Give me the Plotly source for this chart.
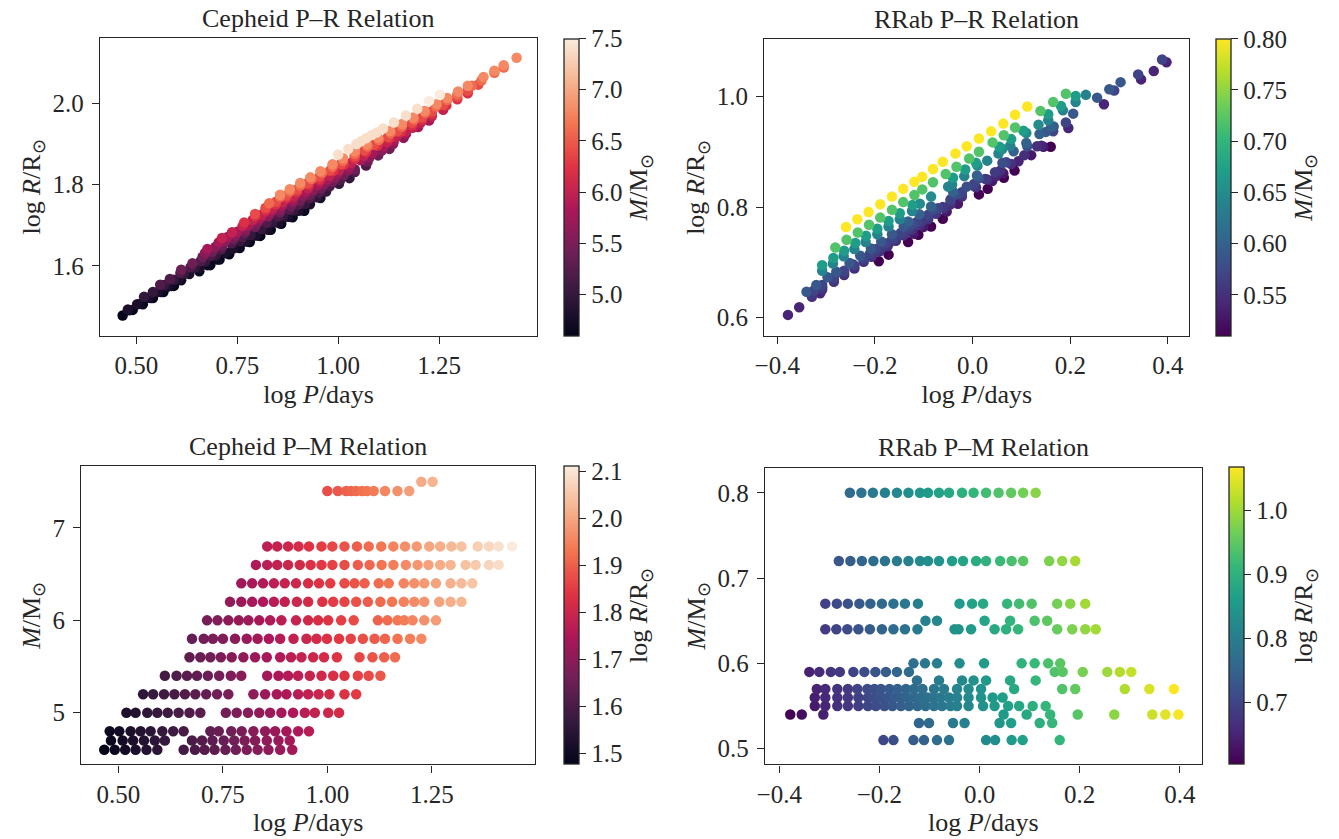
import plotly.graph_objects as go

# ---------------- Cepheid data (rows of equal mass) ----------------
cep_masses = [4.6, 4.7, 4.8, 5.0, 5.2, 5.4, 5.6, 5.8, 6.0, 6.2, 6.4, 6.6, 6.8, 7.4, 7.5]

cep_46_p = [0.466, 0.491, 0.516, 0.541, 0.567, 0.593, 0.656, 0.683, 0.706, 0.730, 0.756, 0.781, 0.807, 0.833, 0.859, 0.887, 0.916]
cep_46_r = [1.478, 1.492, 1.506, 1.521, 1.536, 1.551, 1.587, 1.602, 1.616, 1.629, 1.644, 1.659, 1.674, 1.689, 1.704, 1.720, 1.736]
cep_47_p = [0.482, 0.510, 0.535, 0.561, 0.587, 0.611, 0.676, 0.700, 0.725, 0.752, 0.777, 0.802, 0.827, 0.855, 0.883, 0.910]
cep_47_r = [1.491, 1.507, 1.521, 1.536, 1.551, 1.565, 1.602, 1.616, 1.631, 1.646, 1.660, 1.675, 1.689, 1.705, 1.721, 1.737]
cep_48_p = [0.479, 0.502, 0.529, 0.553, 0.577, 0.605, 0.631, 0.656, 0.720, 0.740, 0.770, 0.795, 0.823, 0.851, 0.875, 0.902, 0.930, 0.956]
cep_48_r = [1.493, 1.506, 1.522, 1.536, 1.549, 1.566, 1.580, 1.595, 1.632, 1.643, 1.660, 1.675, 1.691, 1.707, 1.721, 1.736, 1.752, 1.767]
cep_50_p = [0.519, 0.541, 0.569, 0.593, 0.618, 0.644, 0.670, 0.696, 0.757, 0.783, 0.810, 0.837, 0.863, 0.890, 0.918, 0.946, 0.970, 1.002, 1.028]
cep_50_r = [1.524, 1.536, 1.553, 1.566, 1.581, 1.596, 1.611, 1.626, 1.661, 1.676, 1.691, 1.707, 1.722, 1.737, 1.753, 1.769, 1.783, 1.802, 1.816]
cep_52_p = [0.559, 0.583, 0.609, 0.634, 0.659, 0.684, 0.710, 0.736, 0.763, 0.823, 0.851, 0.879, 0.902, 0.930, 0.954, 0.979, 1.005, 1.041, 1.069]
cep_52_r = [1.554, 1.568, 1.583, 1.597, 1.612, 1.626, 1.641, 1.656, 1.671, 1.706, 1.722, 1.738, 1.751, 1.767, 1.781, 1.796, 1.811, 1.831, 1.847]
cep_54_p = [0.611, 0.639, 0.664, 0.688, 0.714, 0.741, 0.769, 0.794, 0.856, 0.883, 0.906, 0.930, 0.958, 0.986, 1.014, 1.041, 1.073, 1.099, 1.127]
cep_54_r = [1.591, 1.607, 1.622, 1.635, 1.650, 1.666, 1.682, 1.696, 1.732, 1.747, 1.761, 1.775, 1.791, 1.807, 1.823, 1.838, 1.857, 1.872, 1.888]
cep_56_p = [0.670, 0.696, 0.720, 0.745, 0.771, 0.799, 0.827, 0.855, 0.887, 0.913, 0.938, 0.966, 0.992, 1.023, 1.077, 1.108, 1.136, 1.162]
cep_56_r = [1.632, 1.647, 1.661, 1.675, 1.690, 1.706, 1.722, 1.738, 1.757, 1.772, 1.786, 1.802, 1.817, 1.835, 1.866, 1.884, 1.900, 1.915]
cep_58_p = [0.676, 0.704, 0.726, 0.750, 0.779, 0.807, 0.833, 0.860, 0.887, 0.919, 0.950, 0.974, 0.999, 1.028, 1.056, 1.085, 1.113, 1.138, 1.168, 1.198, 1.225]
cep_58_r = [1.642, 1.658, 1.671, 1.684, 1.701, 1.717, 1.732, 1.748, 1.763, 1.782, 1.799, 1.813, 1.828, 1.844, 1.860, 1.877, 1.893, 1.908, 1.925, 1.942, 1.958]
cep_60_p = [0.712, 0.737, 0.763, 0.788, 0.811, 0.837, 0.863, 0.890, 0.925, 0.954, 0.978, 1.002, 1.033, 1.063, 1.121, 1.144, 1.168, 1.184, 1.204, 1.232, 1.260]
cep_60_r = [1.669, 1.683, 1.698, 1.713, 1.726, 1.741, 1.756, 1.771, 1.791, 1.808, 1.822, 1.836, 1.854, 1.871, 1.904, 1.917, 1.931, 1.940, 1.952, 1.968, 1.984]
cep_62_p = [0.767, 0.794, 0.820, 0.846, 0.872, 0.898, 0.927, 0.954, 0.988, 1.014, 1.041, 1.069, 1.097, 1.127, 1.155, 1.183, 1.208, 1.232, 1.268, 1.295, 1.321]
cep_62_r = [1.707, 1.722, 1.737, 1.752, 1.767, 1.782, 1.799, 1.814, 1.834, 1.849, 1.864, 1.880, 1.896, 1.914, 1.930, 1.946, 1.960, 1.974, 1.995, 2.010, 2.025]
cep_64_p = [0.794, 0.820, 0.846, 0.872, 0.898, 0.925, 0.954, 0.980, 1.007, 1.041, 1.065, 1.089, 1.123, 1.147, 1.183, 1.208, 1.232, 1.260, 1.295, 1.321, 1.347]
cep_64_r = [1.728, 1.743, 1.758, 1.773, 1.788, 1.804, 1.820, 1.835, 1.851, 1.870, 1.884, 1.898, 1.917, 1.931, 1.952, 1.966, 1.980, 1.996, 2.016, 2.031, 2.046]
cep_66_p = [0.829, 0.856, 0.880, 0.906, 0.934, 0.960, 0.986, 1.012, 1.041, 1.073, 1.101, 1.130, 1.158, 1.188, 1.216, 1.242, 1.270, 1.295, 1.331, 1.355, 1.387, 1.410]
cep_66_r = [1.754, 1.770, 1.783, 1.798, 1.814, 1.829, 1.844, 1.859, 1.876, 1.894, 1.910, 1.927, 1.943, 1.960, 1.977, 1.992, 2.008, 2.022, 2.043, 2.056, 2.075, 2.088]
cep_68_p = [0.856, 0.880, 0.906, 0.931, 0.956, 0.986, 1.012, 1.041, 1.071, 1.099, 1.129, 1.158, 1.186, 1.214, 1.244, 1.270, 1.297, 1.321, 1.360, 1.387, 1.410, 1.442]
cep_68_r = [1.775, 1.789, 1.804, 1.818, 1.833, 1.850, 1.865, 1.882, 1.899, 1.915, 1.932, 1.949, 1.965, 1.981, 1.998, 2.013, 2.029, 2.043, 2.065, 2.080, 2.094, 2.112]
cep_74_p = [1.000, 1.025, 1.045, 1.057, 1.069, 1.083, 1.095, 1.111, 1.138, 1.168, 1.196]
cep_74_r = [1.874, 1.888, 1.900, 1.907, 1.914, 1.922, 1.928, 1.938, 1.953, 1.970, 1.987]
cep_75_p = [1.225, 1.252]
cep_75_r = [2.006, 2.021]

cep_rows_p = [cep_46_p, cep_47_p, cep_48_p, cep_50_p, cep_52_p, cep_54_p, cep_56_p, cep_58_p,
              cep_60_p, cep_62_p, cep_64_p, cep_66_p, cep_68_p, cep_74_p, cep_75_p]
cep_rows_r = [cep_46_r, cep_47_r, cep_48_r, cep_50_r, cep_52_r, cep_54_r, cep_56_r, cep_58_r,
              cep_60_r, cep_62_r, cep_64_r, cep_66_r, cep_68_r, cep_74_r, cep_75_r]

# ---------------- RRab data (rows of equal mass) ----------------
rr_masses = [0.51, 0.53, 0.54, 0.55, 0.56, 0.57, 0.58, 0.59, 0.60, 0.64, 0.65, 0.67, 0.72, 0.80]

rr_051_p = [-0.192, -0.172, -0.132, -0.111, -0.085, -0.061, 0.013, 0.031, 0.064, 0.086, 0.160]
rr_051_r = [0.702, 0.714, 0.737, 0.750, 0.765, 0.779, 0.823, 0.833, 0.853, 0.866, 0.909]
rr_053_p = [-0.121, -0.101, -0.053, -0.030, 0.040, 0.063, 0.120, 0.145]
rr_053_r = [0.752, 0.764, 0.792, 0.806, 0.847, 0.861, 0.894, 0.909]
rr_054_p = [-0.378, -0.355, -0.312, 0.048, 0.094, 0.141, 0.196, 0.269, 0.345, 0.371, 0.397]
rr_054_r = [0.605, 0.619, 0.644, 0.856, 0.883, 0.911, 0.943, 0.986, 1.031, 1.046, 1.062]
rr_055_p = [-0.329, -0.308, -0.284, -0.263, -0.242, -0.223, -0.207, -0.190, -0.174, -0.157, -0.141, -0.124,
            -0.108, -0.091, -0.075, -0.058, -0.045, -0.022, 0.007, 0.030, 0.057, 0.079, 0.106, 0.132]
rr_055_r = [0.638, 0.651, 0.665, 0.677, 0.689, 0.701, 0.710, 0.720, 0.729, 0.739, 0.749, 0.759,
            0.768, 0.778, 0.788, 0.798, 0.805, 0.819, 0.836, 0.850, 0.866, 0.878, 0.894, 0.910]
rr_056_p = [-0.329, -0.308, -0.284, -0.263, -0.242, -0.223, -0.210, -0.197, -0.184, -0.170, -0.157, -0.144,
            -0.131, -0.118, -0.104, -0.091, -0.078, -0.061, -0.045, -0.022, 0.003, 0.026, 0.046]
rr_056_r = [0.642, 0.655, 0.669, 0.681, 0.694, 0.705, 0.712, 0.720, 0.728, 0.736, 0.744, 0.751,
            0.759, 0.767, 0.775, 0.782, 0.790, 0.800, 0.810, 0.823, 0.838, 0.851, 0.863]
rr_057_p = [-0.325, -0.308, -0.284, -0.263, -0.244, -0.224, -0.210, -0.197, -0.180, -0.164, -0.147, -0.131,
            -0.114, -0.091, -0.071, -0.045, -0.022, 0.003, 0.069, 0.165, 0.191, 0.290, 0.339, 0.388]
rr_057_r = [0.649, 0.659, 0.673, 0.685, 0.696, 0.708, 0.716, 0.724, 0.734, 0.743, 0.753, 0.763,
            0.773, 0.786, 0.798, 0.814, 0.827, 0.842, 0.881, 0.937, 0.953, 1.011, 1.040, 1.067]
rr_058_p = [-0.125, -0.081, -0.035, -0.012, 0.013, 0.061, 0.112]
rr_058_r = [0.770, 0.796, 0.823, 0.837, 0.852, 0.880, 0.910]
rr_059_p = [-0.340, -0.320, -0.297, -0.279, -0.252, -0.230, -0.208, -0.187, -0.165, -0.141,
            0.150, 0.166, 0.206, 0.255, 0.280, 0.303]
rr_059_r = [0.647, 0.659, 0.673, 0.683, 0.699, 0.712, 0.725, 0.738, 0.751, 0.765,
            0.936, 0.946, 0.969, 0.998, 1.013, 1.026]
rr_060_p = [-0.132, -0.109, -0.085, -0.040, 0.009, 0.084, 0.110, 0.137, 0.161]
rr_060_r = [0.774, 0.787, 0.801, 0.828, 0.857, 0.901, 0.916, 0.932, 0.946]
rr_064_p = [-0.308, -0.286, -0.264, -0.242, -0.219, -0.195, -0.172, -0.149, -0.124, -0.050,
            -0.042, -0.017, 0.030, 0.053, 0.077, 0.155, 0.185, 0.211, 0.232]
rr_064_r = [0.685, 0.698, 0.711, 0.724, 0.737, 0.751, 0.765, 0.778, 0.793, 0.837,
            0.841, 0.856, 0.884, 0.897, 0.911, 0.957, 0.975, 0.990, 1.003]
rr_065_p = [-0.108, -0.085, 0.010, 0.061, 0.110, 0.135]
rr_065_r = [0.806, 0.819, 0.875, 0.905, 0.934, 0.949]
rr_067_p = [-0.308, -0.285, -0.263, -0.240, -0.218, -0.195, -0.172, -0.149, -0.123,
            -0.040, -0.015, 0.007, 0.055, 0.079, 0.104, 0.155, 0.181, 0.211]
rr_067_r = [0.695, 0.708, 0.721, 0.735, 0.748, 0.761, 0.775, 0.789, 0.804,
            0.853, 0.868, 0.880, 0.909, 0.923, 0.938, 0.968, 0.983, 1.001]
rr_072_p = [-0.281, -0.258, -0.235, -0.212, -0.189, -0.165, -0.142, -0.119, -0.103, -0.081,
            -0.055, -0.033, -0.007, 0.013, 0.041, 0.064, 0.087, 0.139, 0.165, 0.191]
rr_072_r = [0.727, 0.741, 0.754, 0.768, 0.781, 0.795, 0.809, 0.822, 0.832, 0.845,
            0.860, 0.873, 0.888, 0.900, 0.917, 0.930, 0.944, 0.974, 0.990, 1.005]
rr_080_p = [-0.259, -0.236, -0.213, -0.189, -0.165, -0.142, -0.119, -0.103, -0.081,
            -0.061, -0.035, -0.012, 0.013, 0.038, 0.063, 0.087, 0.112]
rr_080_r = [0.764, 0.778, 0.791, 0.805, 0.819, 0.833, 0.846, 0.855, 0.869,
            0.882, 0.897, 0.910, 0.924, 0.937, 0.951, 0.967, 0.982]

rr_rows_p = [rr_051_p, rr_053_p, rr_054_p, rr_055_p, rr_056_p, rr_057_p, rr_058_p,
             rr_059_p, rr_060_p, rr_064_p, rr_065_p, rr_067_p, rr_072_p, rr_080_p]
rr_rows_r = [rr_051_r, rr_053_r, rr_054_r, rr_055_r, rr_056_r, rr_057_r, rr_058_r,
             rr_059_r, rr_060_r, rr_064_r, rr_065_r, rr_067_r, rr_072_r, rr_080_r]

# tick labels
lin_ticks = [0.5, 0.75, 1.0, 1.25]
lin_ticktext = ["0.50", "0.75", "1.00", "1.25"]
rr_xticks = [-0.4, -0.2, 0.0, 0.2, 0.4]
rr_xticktext = ["\u22120.4", "\u22120.2", "0.0", "0.2", "0.4"]

# ---------------- flatten ----------------
def flatten(rows):
    out = []
    for r in rows:
        out.extend(r)
    return out

cep_p = flatten(cep_rows_p)
cep_r = flatten(cep_rows_r)
cep_m = flatten([[m] * len(r) for m, r in zip(cep_masses, cep_rows_p)])
rr_p = flatten(rr_rows_p)
rr_r = flatten(rr_rows_r)
rr_m = flatten([[m] * len(r) for m, r in zip(rr_masses, rr_rows_p)])

# ---------------- styling ----------------
W, H = 1339, 839
FONT = "Liberation Serif"
INK = "#262626"
TICK_SIZE = 25
LABEL_SIZE = 26
TITLE_SIZE = 26
MS = 10.5

rocket = [
    [0.0, "#03051a"], [0.1429, "#35193e"], [0.2857, "#701f57"], [0.4286, "#ad1759"],
    [0.5714, "#e13342"], [0.7143, "#f37651"], [0.8571, "#f6b48f"], [1.0, "#faebdd"],
]

def fx(px):
    return px / W

def fy(py):
    return 1 - py / H

# panel boxes in pixels: left, right, top, bottom
boxes = {
    1: (90.7, 531.0, 38.3, 335.7),
    2: (760.0, 1188.3, 38.8, 335.7),
    3: (71.7, 529.3, 466.3, 764.3),
    4: (760.7, 1200.7, 467.5, 764.3),
}

def cbar(x_px, box, title, tickvals, ticktext):
    l, r, t, b = box
    return dict(
        x=fx(x_px), xanchor="left", xpad=0, ypad=0,
        y=fy((t + b) / 2), yanchor="middle", len=(b - t) / H, lenmode="fraction",
        thickness=15, thicknessmode="pixels",
        outlinewidth=1.3, outlinecolor=INK,
        ticks="outside", ticklen=7, tickwidth=1.4, tickcolor=INK,
        tickvals=tickvals, ticktext=ticktext,
        tickfont=dict(family=FONT, size=TICK_SIZE, color=INK),
        title=dict(text=title, side="right", font=dict(family=FONT, size=LABEL_SIZE, color=INK)),
    )

R_LABEL = "log <i>R</i>/R<sub>\u2299</sub>"
M_LABEL = "<i>M</i>/M<sub>\u2299</sub>"
P_LABEL = "log <i>P</i>/days"

fig = go.Figure()

# Top-left: Cepheid P-R coloured by mass
fig.add_trace(go.Scatter(
    x=cep_p, y=cep_r, mode="markers", xaxis="x", yaxis="y",
    marker=dict(size=MS, color=cep_m, colorscale=rocket, cmin=4.6, cmax=7.5, line=dict(width=0),
                colorbar=cbar(558.3, boxes[1], M_LABEL,
                              [5.0, 5.5, 6.0, 6.5, 7.0, 7.5], ["5.0", "5.5", "6.0", "6.5", "7.0", "7.5"])),
    showlegend=False))

# Top-right: RRab P-R coloured by mass
fig.add_trace(go.Scatter(
    x=rr_p, y=rr_r, mode="markers", xaxis="x2", yaxis="y2",
    marker=dict(size=MS, color=rr_m, colorscale="Viridis", cmin=0.51, cmax=0.80, line=dict(width=0),
                colorbar=cbar(1215.0, boxes[2], M_LABEL,
                              [0.55, 0.60, 0.65, 0.70, 0.75, 0.80], ["0.55", "0.60", "0.65", "0.70", "0.75", "0.80"])),
    showlegend=False))

# Bottom-left: Cepheid P-M coloured by radius
fig.add_trace(go.Scatter(
    x=cep_p, y=cep_m, mode="markers", xaxis="x3", yaxis="y3",
    marker=dict(size=MS, color=cep_r, colorscale=rocket, cmin=1.477, cmax=2.111, line=dict(width=0),
                colorbar=cbar(557.7, boxes[3], R_LABEL,
                              [1.5, 1.6, 1.7, 1.8, 1.9, 2.0, 2.1], ["1.5", "1.6", "1.7", "1.8", "1.9", "2.0", "2.1"])),
    showlegend=False))

# Bottom-right: RRab P-M coloured by radius
fig.add_trace(go.Scatter(
    x=rr_p, y=rr_m, mode="markers", xaxis="x4", yaxis="y4",
    marker=dict(size=MS, color=rr_r, colorscale="Viridis", cmin=0.603, cmax=1.067, line=dict(width=0),
                colorbar=cbar(1227.7, boxes[4], R_LABEL,
                              [0.7, 0.8, 0.9, 1.0], ["0.7", "0.8", "0.9", "1.0"])),
    showlegend=False))

def axis_common():
    return dict(
        showgrid=False, zeroline=False, showline=True, mirror=True,
        linecolor=INK, linewidth=1.4,
        ticks="outside", ticklen=7, tickwidth=1.4, tickcolor=INK,
        tickfont=dict(family=FONT, size=TICK_SIZE, color=INK),
    )

layout_axes = {}
specs = {
    1: dict(xr=[0.410, 1.4926], yr=[1.4285, 2.160], xt=(lin_ticks, lin_ticktext),
            yt=([1.6, 1.8, 2.0], ["1.6", "1.8", "2.0"]), xl=P_LABEL, yl=R_LABEL),
    2: dict(xr=[-0.4264, 0.444], yr=[0.5674, 1.1044], xt=(rr_xticks, rr_xticktext),
            yt=([0.6, 0.8, 1.0], ["0.6", "0.8", "1.0"]), xl=P_LABEL, yl=R_LABEL),
    3: dict(xr=[0.4107, 1.4979], yr=[4.442, 7.667], xt=(lin_ticks, lin_ticktext),
            yt=([5, 6, 7], ["5", "6", "7"]), xl=P_LABEL, yl=M_LABEL),
    4: dict(xr=[-0.4284, 0.4436], yr=[0.4816, 0.8297], xt=(rr_xticks, rr_xticktext),
            yt=([0.5, 0.6, 0.7, 0.8], ["0.5", "0.6", "0.7", "0.8"]), xl=P_LABEL, yl=M_LABEL),
}
for i in range(1, 5):
    l, r, t, b = boxes[i]
    s = specs[i]
    xa = axis_common()
    xa.update(domain=[fx(l), fx(r)], range=s["xr"], anchor="y" if i == 1 else f"y{i}",
              tickvals=s["xt"][0], ticktext=s["xt"][1],
              title=dict(text=s["xl"], font=dict(family=FONT, size=LABEL_SIZE, color=INK), standoff=6))
    ya = axis_common()
    ya.update(domain=[fy(b), fy(t)], range=s["yr"], anchor="x" if i == 1 else f"x{i}",
              tickvals=s["yt"][0], ticktext=s["yt"][1], ticklabelstandoff=3,
              title=dict(text=s["yl"], font=dict(family=FONT, size=LABEL_SIZE, color=INK), standoff=4))
    layout_axes["xaxis" if i == 1 else f"xaxis{i}"] = xa
    layout_axes["yaxis" if i == 1 else f"yaxis{i}"] = ya

titles = ["Cepheid P\u2013R Relation", "RRab P\u2013R Relation",
          "Cepheid P\u2013M Relation", "RRab P\u2013M Relation"]
annotations = []
for i, txt in enumerate(titles, start=1):
    l, r, t, b = boxes[i]
    annotations.append(dict(
        text=txt, x=fx((l + r) / 2), y=fy(t), xref="paper", yref="paper",
        xanchor="center", yanchor="bottom", yshift=3, showarrow=False,
        font=dict(family=FONT, size=TITLE_SIZE, color=INK)))

fig.update_layout(
    width=W, height=H, autosize=False,
    margin=dict(l=0, r=0, t=0, b=0),
    paper_bgcolor="white", plot_bgcolor="white",
    font=dict(family=FONT, color=INK),
    annotations=annotations,
    **layout_axes,
)

fig.write_html("out.html")
